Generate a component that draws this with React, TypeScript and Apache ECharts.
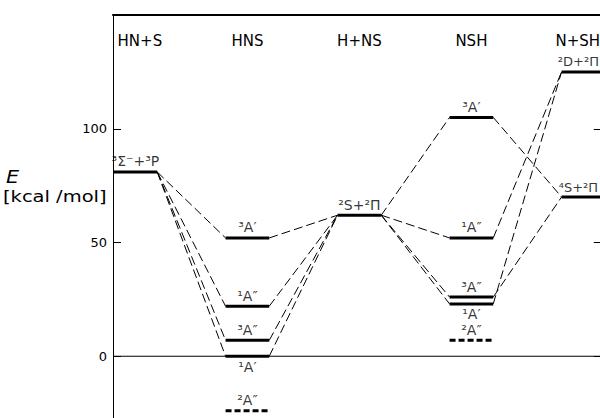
import React, { useEffect, useRef } from 'react';
import * as echarts from 'echarts';

const categories = ['HN+S', 'HNS', 'H+NS', 'NSH', 'N+SH'];
const stateLabels = ['³Σ⁻+³P', '³A′', '¹A″', '³A″', '¹A′', '²A″', '²S+²Π', '³A′', '¹A″', '³A″', '¹A′', '²A″', '²D+²Π', '⁴S+²Π'];
const stateColumns = [0, 1, 1, 1, 1, 1, 2, 3, 3, 3, 3, 3, 4, 4];
const stateEnergies = [81, 52, 22, 7, 0, -24, 62, 105, 52, 26, 23, 7, 125, 70];
const anionStates = [5, 11];
const labelBelowStates = [4, 10];
const correlationFrom = [0, 0, 0, 0, 1, 2, 3, 4, 6, 6, 6, 6, 7, 8, 9, 10];
const correlationTo = [1, 2, 3, 4, 6, 6, 6, 6, 7, 8, 9, 10, 13, 12, 13, 12];
const yTickLabels = [0, 50, 100];

const FONT = 'DejaVu Sans';
const HALF = 0.195;
const XMIN = -0.2;
const XMAX = 4.2;

export default function App() {
  const ref = useRef<HTMLDivElement>(null);
  useEffect(() => {
    if (!ref.current) return;
    const chart = echarts.init(ref.current, null, { renderer: 'svg' });
    const series: any[] = [];

    series.push({
      type: 'line',
      data: [[XMIN, 0], [XMAX, 0]],
      symbol: 'none',
      lineStyle: { color: '#000', width: 1.2 },
      z: 1,
    });

    stateEnergies.forEach((e, i) => {
      const c = stateColumns[i];
      const x1 = c === 0 ? XMIN : c - HALF;
      const x2 = c + HALF;
      const dashed = anionStates.includes(i);
      series.push({
        type: 'line',
        data: [[x1, e], [x2, e]],
        symbol: 'none',
        lineStyle: { color: '#000', width: 3, type: dashed ? [6, 3] : 'solid' },
        z: 3,
      });
    });

    correlationFrom.forEach((f, k) => {
      const t = correlationTo[k];
      series.push({
        type: 'line',
        data: [
          [stateColumns[f] + HALF, stateEnergies[f]],
          [stateColumns[t] - HALF, stateEnergies[t]],
        ],
        symbol: 'none',
        lineStyle: { color: '#000', width: 1, type: [9, 4] },
        z: 2,
      });
    });

    const lastCol = categories.length - 1;
    series.push({
      type: 'scatter',
      symbol: 'circle',
      symbolSize: 1,
      itemStyle: { color: 'rgba(0,0,0,0)' },
      data: stateEnergies.map((e, i) => ({
        value: [stateColumns[i], e],
        label: {
          show: true,
          position: labelBelowStates.includes(i) ? 'bottom' : 'top',
          distance: 3,
          offset: stateColumns[i] === lastCol ? [-5, 0] : [0, 0],
          formatter: stateLabels[i],
          color: '#000',
          fontSize: stateColumns[i] === lastCol ? 13 : 14,
          fontFamily: FONT,
        },
      })),
      z: 4,
    });

    // category header positions: first and last nudged slightly inward, as in the figure
    const headerValues = categories.map((_, i) =>
      i === 0 ? i + 0.04 : i === lastCol ? i - 0.05 : i
    );

    chart.setOption({
      animation: false,
      backgroundColor: '#fff',
      grid: {
        left: 113,
        top: 15,
        width: 492.8,
        height: 455,
        containLabel: false,
        outerBoundsMode: 'none',
      },
      xAxis: [
        {
          type: 'value',
          min: XMIN,
          max: XMAX,
          show: false,
        },
        {
          type: 'value',
          position: 'top',
          min: XMIN,
          max: XMAX,
          axisLine: { show: true, onZero: false, lineStyle: { color: '#000', width: 2 } },
          axisTick: { show: false },
          splitLine: { show: false },
          axisLabel: {
            inside: true,
            margin: 18,
            customValues: headerValues,
            formatter: (v: number) => categories[Math.round(v)] ?? '',
            color: '#000',
            fontSize: 15,
            fontFamily: FONT,
          },
        },
      ],
      yAxis: [
        {
          type: 'value',
          min: -50,
          max: 150,
          interval: 50,
          axisLine: { show: true, onZero: false, lineStyle: { color: '#000', width: 1 } },
          axisTick: { show: true, inside: true, length: 8, lineStyle: { color: '#000' } },
          splitLine: { show: false },
          axisLabel: {
            margin: 6,
            formatter: (v: number) => (yTickLabels.includes(v) ? String(v) : ''),
            color: '#000',
            fontSize: 13,
            fontFamily: FONT,
          },
        },
        {
          type: 'value',
          position: 'right',
          min: -50,
          max: 150,
          interval: 50,
          axisLine: { show: true, onZero: false, lineStyle: { color: '#000', width: 1 } },
          axisTick: { show: true, inside: true, length: 12, lineStyle: { color: '#000' } },
          splitLine: { show: false },
          axisLabel: { show: false },
        },
      ],
      graphic: [
        {
          type: 'text',
          x: 6,
          y: 168,
          scaleX: 1.15,
          style: { text: 'E', fontSize: 18, fontStyle: 'italic', fontFamily: FONT, fill: '#000' },
        },
        {
          type: 'text',
          x: 3,
          y: 189,
          scaleX: 1.3,
          style: { text: '[kcal /mol]', fontSize: 15, fontFamily: FONT, fill: '#000' },
        },
      ],
      series,
    });
    return () => chart.dispose();
  }, []);
  return (
    <div
      ref={ref}
      style={{ position: 'fixed', left: 0, top: 0, width: 600, height: 418, background: '#fff' }}
    />
  );
}
